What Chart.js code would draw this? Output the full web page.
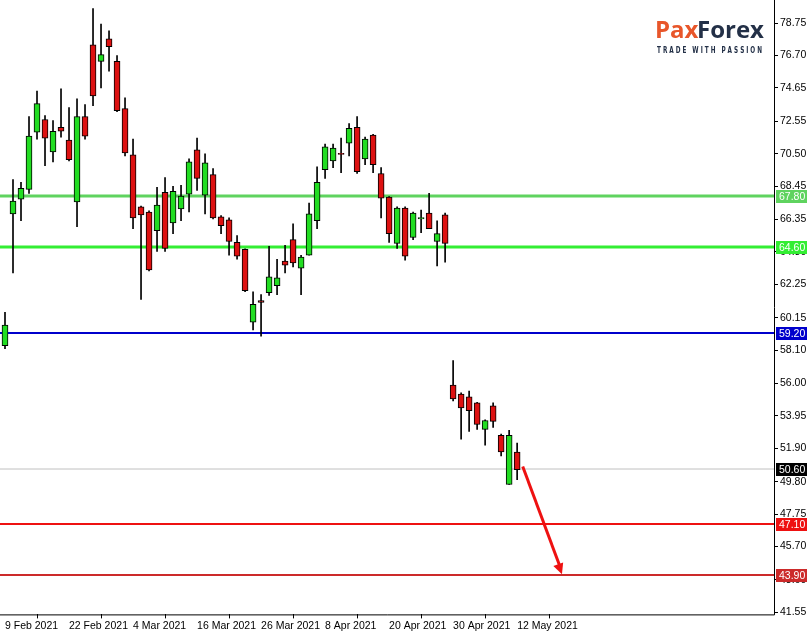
<!DOCTYPE html>
<html>
<head>
<meta charset="utf-8">
<script src="https://cdn.jsdelivr.net/npm/chart.js@4.4.0/dist/chart.umd.min.js"></script>
<style>
  html, body { margin: 0; padding: 0; background: #fff; }
  #wrap { width: 809px; height: 633px; }
</style>
</head>
<body>
<div id="wrap"><canvas id="myChart" width="809" height="633"></canvas></div>
<script>
    var dateLabels = ['9 Feb 2021', '22 Feb 2021', '4 Mar 2021', '16 Mar 2021', '26 Mar 2021', '8 Apr 2021', '20 Apr 2021', '30 Apr 2021', '12 May 2021'];
    var priceTicks = [78.75, 76.70, 74.65, 72.55, 70.50, 68.45, 66.35, 64.30, 62.25, 60.15, 58.10, 56.00, 53.95, 51.90, 49.80, 47.75, 45.70, 43.60, 41.55];

    var opens  = [58.38, 66.70, 67.63, 68.25, 71.86, 72.66, 70.61, 72.17, 71.36, 67.45, 72.85, 77.38, 76.33, 77.76, 76.33, 73.35, 70.43, 67.14, 66.82, 65.64,
                  68.07, 66.14, 67.01, 67.94, 70.74, 67.88, 69.18, 66.51, 66.33, 64.90, 64.46, 59.87, 61.23, 61.73, 62.17, 63.72, 65.08, 63.28, 64.09, 66.27,
                  69.50, 70.05, 70.49, 71.17, 72.17, 70.18, 71.67, 69.25, 67.76, 64.84, 67.07, 65.21, 66.39, 66.76, 64.96, 66.64, 55.89, 55.33, 55.15, 54.77,
                  53.10, 54.59, 52.73, 49.62, 51.67];
    var highs  = [60.49, 68.87, 68.69, 72.85, 74.46, 72.91, 72.60, 74.59, 73.41, 73.97, 73.60, 79.70, 78.69, 78.25, 76.70, 74.03, 71.42, 67.20, 66.90, 68.38,
                  69.00, 68.44, 68.50, 70.18, 71.48, 70.49, 69.56, 66.60, 66.45, 65.33, 64.50, 61.79, 61.61, 64.65, 63.84, 64.71, 66.08, 64.09, 67.38, 69.68,
                  71.11, 71.11, 71.48, 72.41, 72.85, 71.55, 71.73, 69.62, 67.80, 67.14, 67.14, 66.82, 66.95, 68.00, 66.27, 66.76, 57.45, 55.40, 55.52, 54.80,
                  53.70, 54.77, 52.80, 53.04, 52.23];
    var lows   = [58.19, 62.97, 66.27, 68.00, 71.42, 69.74, 69.99, 71.55, 70.05, 65.89, 71.42, 73.53, 74.65, 75.71, 73.16, 70.36, 65.77, 61.30, 63.10, 64.34,
                  64.34, 65.46, 66.27, 66.82, 68.19, 66.70, 66.39, 65.46, 64.09, 63.84, 61.80, 59.37, 58.99, 61.55, 61.61, 62.97, 63.35, 61.61, 64.09, 65.77,
                  68.94, 69.62, 69.31, 70.36, 69.25, 69.81, 69.31, 66.45, 64.90, 64.53, 63.78, 65.08, 65.52, 65.77, 63.41, 63.66, 54.90, 52.48, 52.97, 53.10,
                  52.10, 53.22, 51.42, 49.62, 49.93];
    var closes = [59.68, 67.51, 68.31, 71.61, 73.66, 71.48, 71.92, 71.92, 70.12, 72.85, 71.61, 74.15, 76.76, 77.26, 73.22, 70.55, 66.45, 66.64, 63.16, 67.26,
                  64.53, 68.13, 67.82, 69.99, 68.94, 69.93, 66.45, 65.96, 64.96, 64.03, 61.86, 60.99, 61.11, 62.73, 62.66, 63.47, 63.60, 63.97, 66.70, 68.69,
                  70.93, 70.86, 70.45, 72.10, 69.37, 71.42, 69.81, 67.69, 65.46, 67.07, 64.03, 66.76, 66.45, 65.77, 65.46, 64.84, 55.02, 54.46, 54.28, 53.41,
                  53.66, 53.60, 51.67, 52.73, 50.55];

    var levelValues = [67.80, 64.60, 59.20, 50.60, 47.10, 43.90];
    var levelColors = ['#5fd35f', '#33ee33', '#0000cc', '#c0c0c0', '#ee1111', '#cc2a2a'];
    var levelWidths = [3, 3, 2, 1, 2, 2];
    var arrowX = [64.7, 69.6];
    var arrowY = [50.75, 43.95];

    var levelsPlugin = {
        id: 'levels',
        beforeDatasetsDraw: function (chart) {
            var c = chart.ctx, a = chart.chartArea, y = chart.scales.y;
            levelValues.forEach(function (v, i) {
                var py = Math.round(y.getPixelForValue(v));
                c.save();
                c.strokeStyle = levelColors[i];
                c.lineWidth = levelWidths[i];
                c.beginPath(); c.moveTo(a.left, py); c.lineTo(a.right, py); c.stroke();
                c.restore();
            });
        },
        afterDraw: function (chart) {
            var c = chart.ctx, a = chart.chartArea, y = chart.scales.y, x = chart.scales.x;
            // axis frame
            c.save();
            c.strokeStyle = '#000'; c.lineWidth = 1;
            c.beginPath(); c.moveTo(a.right + 0.5, 0); c.lineTo(a.right + 0.5, a.bottom + 0.5); c.lineTo(0, a.bottom + 0.5); c.stroke();
            // level tags
            c.font = '10.5px "Liberation Sans"';
            c.textBaseline = 'middle';
            levelValues.forEach(function (v, i) {
                var py = Math.round(y.getPixelForValue(v));
                var bg = levelColors[i] === '#c0c0c0' ? '#000' : levelColors[i];
                c.fillStyle = bg;
                c.fillRect(a.right + 2, py - 6, 31, 13);
                c.fillStyle = '#fff';
                c.fillText(v.toFixed(2), a.right + 5, py + 1);
            });
            // arrow head
            var x1 = x.getPixelForValue(arrowX[0]), y1 = y.getPixelForValue(arrowY[0]);
            var x2 = x.getPixelForValue(arrowX[1]), y2 = y.getPixelForValue(arrowY[1]);
            var ang = Math.atan2(y2 - y1, x2 - x1);
            c.fillStyle = '#ee1111';
            c.beginPath();
            c.moveTo(x2, y2);
            c.lineTo(x2 - 12 * Math.cos(ang - 0.45), y2 - 12 * Math.sin(ang - 0.45));
            c.lineTo(x2 - 12 * Math.cos(ang + 0.45), y2 - 12 * Math.sin(ang + 0.45));
            c.closePath(); c.fill();
            // logo
            c.textBaseline = 'alphabetic';
            c.font = 'bold 24px "Open Sans"';
            c.fillStyle = '#e8562a';
            c.fillText('Pax', 655, 38);
            c.fillStyle = '#233047';
            c.fillText('Forex', 697, 38);
            c.font = 'bold 8px "DejaVu Sans"';
            c.fillStyle = '#233047';
            c.fillText('T R A D E   W I T H   P A S S I O N', 657, 53, 105);
            c.restore();
        }
    };

    function loadChart() {
        var ctx = document.getElementById('myChart').getContext('2d');

        var wicks = [], bodies = [], bodyColors = [];
        for (var i = 0; i < opens.length; i++) {
            wicks.push({x: i, y: [lows[i], highs[i]]});
            var lo = Math.min(opens[i], closes[i]), hi = Math.max(opens[i], closes[i]);
            if (hi - lo < 0.08) hi = lo + 0.08;
            bodies.push({x: i, y: [lo, hi]});
            bodyColors.push(closes[i] >= opens[i] ? '#22dd22' : '#dd1111');
        }

        new Chart(ctx, {
            type: 'bar',
            data: {
                datasets: [
                    {type: 'line', data: [{x: arrowX[0], y: arrowY[0]}, {x: arrowX[1] - 0.25, y: arrowY[1] + 0.5}],
                     borderColor: '#ee1111', borderWidth: 3, pointRadius: 0, fill: false, order: 0},
                    {data: wicks, backgroundColor: '#000', barThickness: 1, grouped: false, order: 2},
                    {data: bodies, backgroundColor: bodyColors, borderColor: '#000', borderWidth: 1, borderSkipped: false,
                     barThickness: 6, grouped: false, order: 1}
                ]
            },
            options: {
                responsive: false,
                animation: false,
                layout: {padding: {left: 0, top: 0, right: 0, bottom: 0}},
                plugins: {legend: {display: false}, tooltip: {enabled: false}},
                scales: {
                    x: {
                        type: 'linear', min: -0.625, max: 96.1, offset: false,
                        border: {display: false},
                        grid: {drawOnChartArea: false, tickLength: 4, color: '#000'},
                        afterBuildTicks: function (s) { s.ticks = dateLabels.map(function (d, i) { return {value: i * 8}; }); },
                        ticks: {
                            autoSkip: false, maxRotation: 0, align: 'start', padding: 1,
                            color: '#000', font: {family: 'Liberation Sans', size: 10.5},
                            callback: function (v) { return dateLabels[Math.round(v / 8)] || ''; }
                        }
                    },
                    y: {
                        position: 'right', min: 41.42, max: 79.68,
                        border: {display: false},
                        grid: {drawOnChartArea: false, tickLength: 4, color: '#000'},
                        afterBuildTicks: function (s) { s.ticks = priceTicks.map(function (v) { return {value: v}; }); },
                        afterFit: function (s) { s.width = 35; },
                        ticks: {
                            autoSkip: false, padding: 2, color: '#000', font: {family: 'Liberation Sans', size: 10.5},
                            callback: function (v) { return v.toFixed(2); }
                        }
                    }
                }
            },
            plugins: [levelsPlugin]
        });
    }
    loadChart();
</script>
</body>
</html>
